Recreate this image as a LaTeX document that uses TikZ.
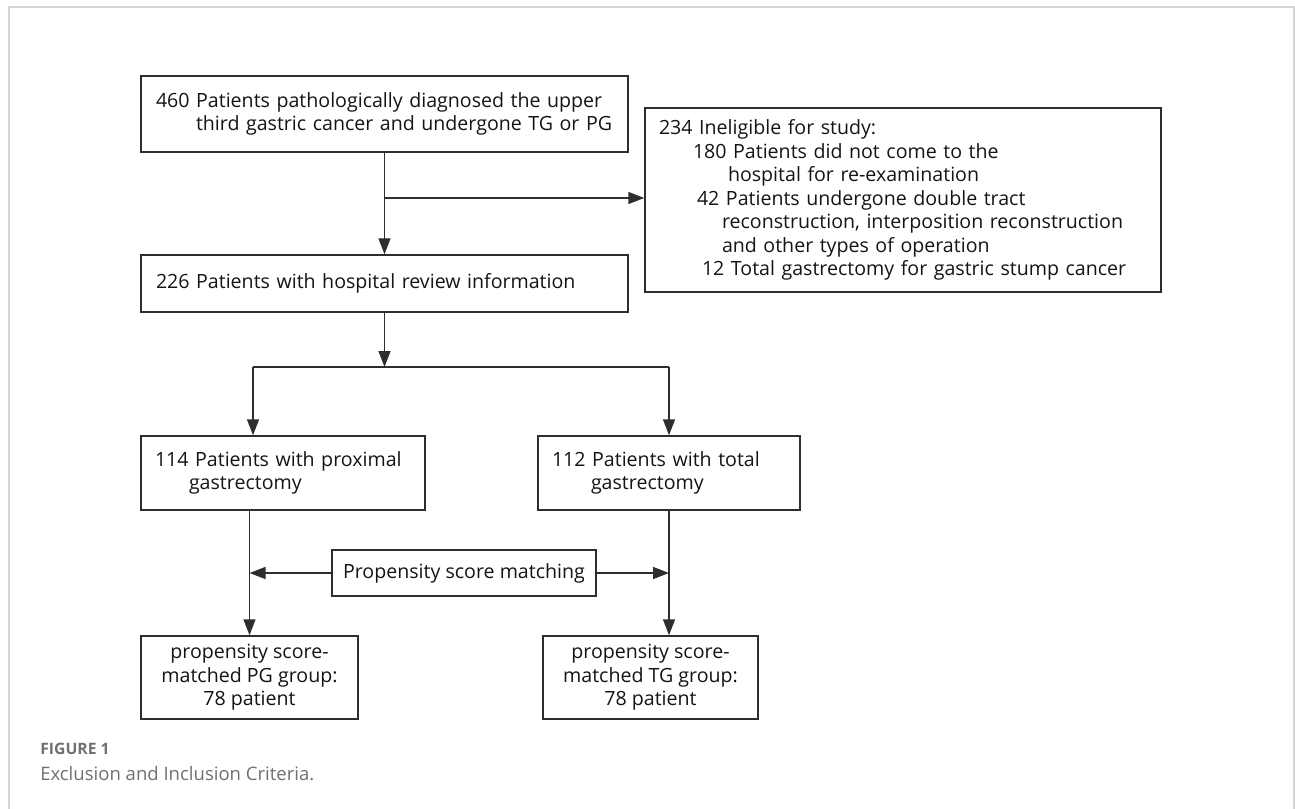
\documentclass[tikz,border=0pt]{standalone}
\usepackage{fontspec}
\setmainfont{Open Sans}
\usetikzlibrary{arrows.meta,calc}
\definecolor{linec}{HTML}{2E2E2E}
\definecolor{framec}{HTML}{D4D4D4}
\definecolor{capc}{HTML}{707070}
\definecolor{txtc}{HTML}{141414}
\begin{document}
\begin{tikzpicture}[x=0.75pt,y=-0.75pt,
  box/.style={draw=linec, line width=1.1pt, rectangle, inner ysep=0pt,
    font=\fontsize{14.7}{17.6}\selectfont, text=txtc},
  lbox/.style={box, align=left},
  cbox/.style={box, align=center},
  arr/.style={draw=linec, line width=1.1pt, -{Triangle[length=12pt,width=9pt]}},
  ln/.style={draw=linec, line width=1.1pt}]
\useasboundingbox (0,0) rectangle (1295,809);
\begin{scope}
\clip (0,0) rectangle (1295,809);
\draw[framec, line width=1.5pt] (9,7) rectangle (1294,860);
\end{scope}

\node[lbox, minimum width=365.25pt, minimum height=57pt, text width=342.75pt, inner xsep=11.25pt] (b1) at (384.5,114)
  {\mbox{460 Patients pathologically diagnosed the upper}\\\mbox{\hspace*{30pt}third gastric cancer and undergone TG or PG}};

\node[lbox, minimum width=387pt, minimum height=138pt, text width=366pt, inner xsep=10.5pt] (b234) at (903,200)
  {\mbox{234 Ineligible for study:}\\
   \mbox{\hspace*{25.5pt}180 Patients did not come to the}\\
   \mbox{\hspace*{51.75pt}hospital for re-examination}\\
   \mbox{\hspace*{28.5pt}42 Patients undergone double tract}\\
   \mbox{\hspace*{47.25pt}reconstruction, interposition reconstruction}\\
   \mbox{\hspace*{47.25pt}and other types of operation}\\
   \mbox{\hspace*{32.25pt}12 Total gastrectomy for gastric stump cancer}};

\node[lbox, minimum width=365.25pt, minimum height=42.75pt, text width=342.75pt, inner xsep=11.25pt] (b226) at (384.5,283.5)
  {\mbox{226 Patients with hospital review information}};

\node[lbox, minimum width=213pt, minimum height=55.5pt, text width=192pt, inner xsep=10.5pt] (b114) at (283,473)
  {\mbox{114 Patients with proximal}\\\mbox{\hspace*{25.5pt}gastrectomy}};

\node[lbox, minimum width=196.5pt, minimum height=55.5pt, text width=175.5pt, inner xsep=10.5pt] (b112) at (669,473)
  {\mbox{112 Patients with total}\\\mbox{\hspace*{29.25pt}gastrectomy}};

\node[cbox, minimum width=198pt, minimum height=34.5pt] (psm) at (464,573) {Propensity score matching};

\node[cbox, minimum width=162.75pt, minimum height=62.25pt] (pg) at (249.5,677.5)
  {propensity score-\\matched PG group:\\78 patient};

\node[cbox, minimum width=161.25pt, minimum height=62.25pt] (tg) at (650.5,677.5)
  {propensity score-\\matched TG group:\\78 patient};

\coordinate (split) at (384.5,198);
\coordinate (jl) at (253,367);
\coordinate (jm) at (384.5,367);
\coordinate (jr) at (669,367);

\draw[arr] (b1.south) -- (b226.north);
\draw[arr] (split) -- (split -| b234.west);
\draw[arr] (b226.south) -- (jm);
\draw[ln] (jl) -- (jr);
\draw[arr] (jl) -- (jl |- b114.north);
\draw[arr] (jr) -- (b112.north);
\draw[arr] (pg.north |- b114.south) -- (pg.north);
\draw[arr] (b112.south) -- (b112.south |- tg.north);
\draw[arr] (psm.west) -- (psm.west -| pg.north);
\draw[arr] (psm.east) -- (psm.east -| b112.south);

\node[anchor=west, inner sep=0pt, text=capc, font=\fontsize{11.8}{13}\selectfont\bfseries] (fig) at (40,749) {FIGURE 1};
\node[anchor=west, inner sep=0pt, text=capc, font=\fontsize{13.9}{16}\selectfont] (cap) at (40,774) {Exclusion and Inclusion Criteria.};
\end{tikzpicture}
\end{document}
